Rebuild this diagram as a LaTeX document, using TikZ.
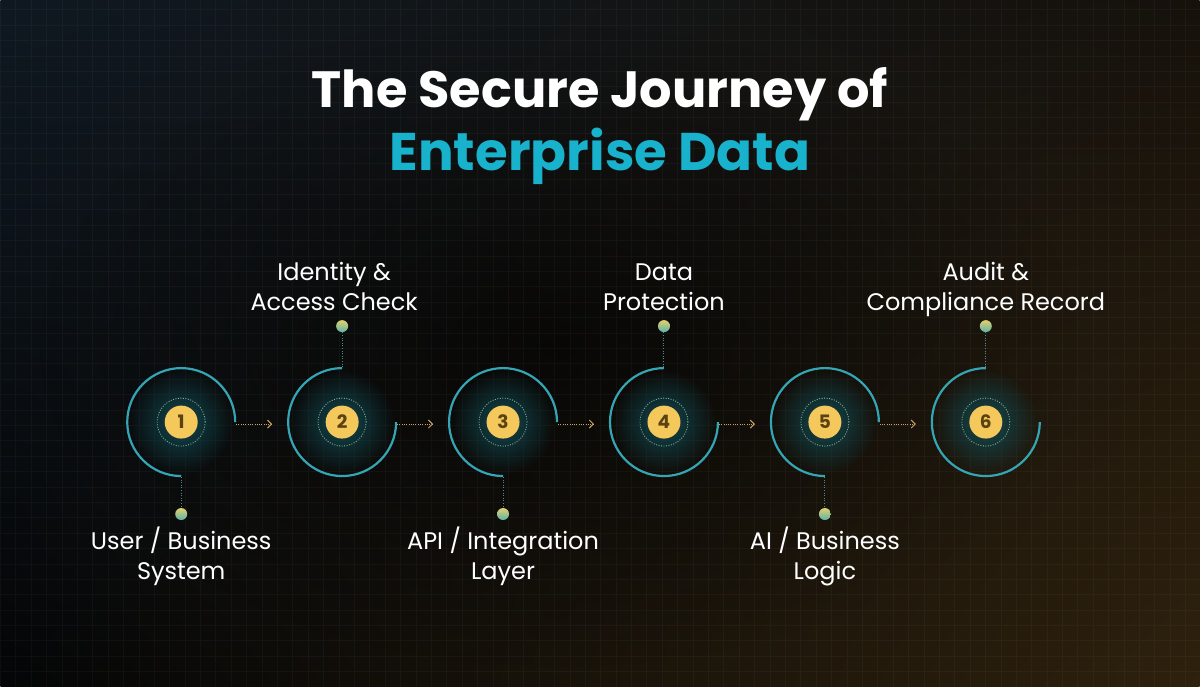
\documentclass[tikz,border=0pt]{standalone}
\usepackage{fontspec}
\setmainfont{Poppins}
\usetikzlibrary{arrows.meta, positioning, fadings, shadings, backgrounds}

\tikzfading[name=glow out, inner color=transparent!0, outer color=transparent!100]

\definecolor{bgtl}{HTML}{0F1821}
\definecolor{bgtr}{HTML}{16110B}
\definecolor{bgbl}{HTML}{040506}
\definecolor{bgbr}{HTML}{2E210D}
\definecolor{titleteal}{HTML}{19B2CD}
\definecolor{ringteal}{HTML}{34A5B5}
\definecolor{glowteal}{HTML}{114850}
\definecolor{numgold}{HTML}{F5C85C}
\definecolor{numbrown}{HTML}{5A4212}
\definecolor{dotteal}{HTML}{7DB9A0}
\definecolor{stemgray}{HTML}{4F8A90}
\definecolor{pinyellow}{HTML}{E2D16E}
\definecolor{pinteal}{HTML}{5BB3AA}
\definecolor{flowgold}{HTML}{C9A466}

\begin{document}
\begin{tikzpicture}[x=1pt, y=1pt, node distance=128pt,
  num/.style={circle, fill=numgold, text=numbrown, minimum size=33pt, inner sep=0pt,
    outer sep=0pt, font=\fontsize{18.5}{18.5}\selectfont\bfseries},
  ring/.style={draw=ringteal, line width=2.2pt},
  halo/.style={fill=glowteal, path fading=glow out},
  dotring/.style={draw=dotteal, line width=0.9pt, dash pattern=on 0.9pt off 1.6pt},
  stem/.style={draw=stemgray, line width=1pt, dash pattern=on 1pt off 1.6pt},
  pin/.style={circle, minimum size=12pt, inner sep=0pt, top color=pinyellow,
    bottom color=pinteal},
  flow/.style={-{Straight Barb[length=4pt, width=8pt]}, draw=flowgold, line width=1pt,
    dash pattern=on 1pt off 1.3pt},
  lab/.style={text=white, align=center, inner sep=0pt,
    font=\fontsize{24}{30}\selectfont},
  labdown/.style={lab, anchor=north, execute at begin node=\strut},
  labup/.style={lab, anchor=south, execute at end node=\strut},
  head/.style={anchor=base, font=\fontsize{51}{63}\selectfont\bfseries}]

  % title
  \node[head, text=white] (title) at (600,580) {The Secure Journey of};
  \node[head, text=titleteal, font=\fontsize{53}{63}\selectfont\bfseries] (subtitle)
    at (600,517) {Enterprise Data};

  % steps
  \node[num] (n1) at (181,265) {1};
  \node[num, right=of n1] (n2) {2};
  \node[num, right=of n2] (n3) {3};
  \node[num, right=of n3] (n4) {4};
  \node[num, right=of n4] (n5) {5};
  \node[num, right=of n5] (n6) {6};

  \begin{scope}[on background layer]
    \shade[upper left=bgtl, upper right=bgtr, lower left=bgbl, lower right=bgbr]
      (0,0) rectangle (1200,687);
    \fill[black, path fading=glow out, opacity=.6] (560,340) ellipse (520 and 320);
    \draw[white, opacity=.035, line width=.6pt, step=15.4] (0,0) grid (1200,687);
    \foreach \i in {1,...,6}
      \fill[halo] (n\i) circle (52);
  \end{scope}

  \foreach \i in {1,...,6}
    \draw[dotring] (n\i) circle (24);
  \foreach \i in {1,3,5}
    \draw[ring] (n\i.center) ++(54,0) arc[start angle=0, end angle=270, radius=54];
  \foreach \i in {2,4,6}
    \draw[ring] (n\i.center) ++(0,54) arc[start angle=90, end angle=360, radius=54];

  % pins and labels
  \node[pin] (p1) at ([yshift=-92]n1.center) {};
  \node[pin] (p2) at ([yshift=96]n2.center) {};
  \node[pin] (p3) at ([yshift=-92]n3.center) {};
  \node[pin] (p4) at ([yshift=96]n4.center) {};
  \node[pin] (p5) at ([yshift=-92]n5.center) {};
  \node[pin] (p6) at ([yshift=96]n6.center) {};
  \draw[stem] ([yshift=-55]n1.center) -- (p1);
  \draw[stem] ([yshift=55]n2.center) -- (p2);
  \draw[stem] ([yshift=-55]n3.center) -- (p3);
  \draw[stem] ([yshift=55]n4.center) -- (p4);
  \draw[stem] ([yshift=-55]n5.center) -- (p5);
  \draw[stem] ([yshift=55]n6.center) -- (p6);

  \node[labdown, below=6pt of p1] (l1) {User / Business\\System};
  \node[labup, above=0pt of p2, xshift=-8pt] (l2) {Identity \&\\Access Check};
  \node[labdown, below=6pt of p3] (l3) {API / Integration\\Layer};
  \node[labup, above=0pt of p4] (l4) {Data\\Protection};
  \node[labdown, below=6pt of p5] (l5) {AI / Business\\Logic};
  \node[labup, above=0pt of p6] (l6) {Audit \&\\Compliance Record};

  % flow arrows
  \draw[flow] ([shift={(55,-2)}]n1.center) -- ([shift={(-70,-2)}]n2.center);
  \draw[flow] ([shift={(55,-2)}]n2.center) -- ([shift={(-70,-2)}]n3.center);
  \draw[flow] ([shift={(55,-2)}]n3.center) -- ([shift={(-70,-2)}]n4.center);
  \draw[flow] ([shift={(55,-2)}]n4.center) -- ([shift={(-70,-2)}]n5.center);
  \draw[flow] ([shift={(55,-2)}]n5.center) -- ([shift={(-70,-2)}]n6.center);

  \useasboundingbox (0,0) rectangle (1200,687);
\end{tikzpicture}
\end{document}
